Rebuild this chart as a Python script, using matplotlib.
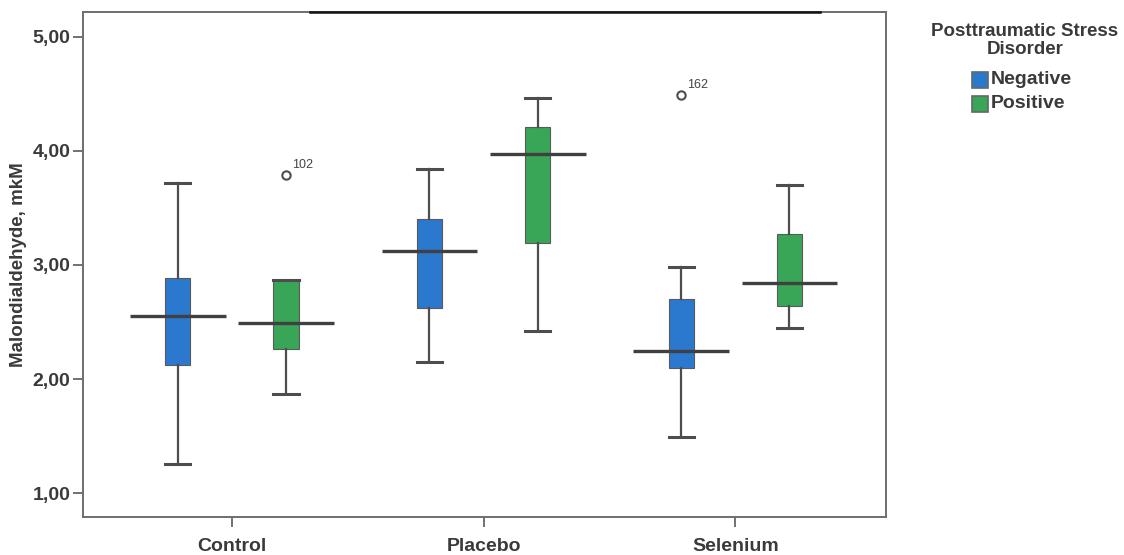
import matplotlib
matplotlib.use("Agg")
import matplotlib.pyplot as plt
from matplotlib.patches import Rectangle

plt.rcParams['font.family'] = ['Liberation Sans', 'DejaVu Sans']

# Groups and series
groups = ["Control", "Placebo", "Selenium"]
series = ["Negative", "Positive"]
colors = {"Negative": "#2b78cf", "Positive": "#38a656"}

# Five-number summaries per group (lower whisker, Q1, median, Q3, upper whisker)
neg_whislo = [1.26, 2.15, 1.49]
neg_q1     = [2.12, 2.62, 2.10]
neg_med    = [2.55, 3.12, 2.25]
neg_q3     = [2.89, 3.40, 2.70]
neg_whishi = [3.72, 3.84, 2.98]

pos_whislo = [1.87, 2.42, 2.45]
pos_q1     = [2.26, 3.19, 2.64]
pos_med    = [2.49, 3.97, 2.84]
pos_q3     = [2.87, 4.21, 3.27]
pos_whishi = [2.87, 4.46, 3.70]

# Outliers: (group index, series, value, case label)
outlier_group  = [0, 2]
outlier_series = ["Positive", "Negative"]
outlier_value  = [3.79, 4.49]
outlier_label  = ["102", "162"]

y_ticks = [1.0, 2.0, 3.0, 4.0, 5.0]
y_tick_labels = ["1,00", "2,00", "3,00", "4,00", "5,00"]

legend_title = ["Posttraumatic Stress", "Disorder"]

edge = "#4d4d4d"
text_col = "#3a3a3a"

W, H = 1124, 555
fig = plt.figure(figsize=(W / 100, H / 100), dpi=100)
ax = fig.add_axes([0.0738, 0.0685, 0.7147, 0.9095])

offset = 0.215
box_w = 0.10
med_half = 0.19

summ = {
    "Negative": (neg_whislo, neg_q1, neg_med, neg_q3, neg_whishi),
    "Positive": (pos_whislo, pos_q1, pos_med, pos_q3, pos_whishi),
}

for si, s in enumerate(series):
    lo, q1, med, q3, hi = summ[s]
    stats = []
    for gi in range(len(groups)):
        fl = [v for g, ss, v in zip(outlier_group, outlier_series, outlier_value)
              if g == gi and ss == s]
        stats.append(dict(whislo=lo[gi], q1=q1[gi], med=med[gi], q3=q3[gi],
                          whishi=hi[gi], fliers=fl))
    pos = [gi + (offset if si else -offset) for gi in range(len(groups))]
    ax.bxp(stats, positions=pos, widths=box_w, patch_artist=True,
           showfliers=True,
           boxprops=dict(facecolor=colors[s], edgecolor="#5a5a5a", linewidth=0.8),
           whiskerprops=dict(color=edge, linewidth=1.6),
           capprops=dict(color=edge, linewidth=2.2),
           medianprops=dict(linewidth=0),
           capwidths=box_w,
           flierprops=dict(marker="o", markersize=6, markerfacecolor="white",
                           markeredgecolor=edge, markeredgewidth=1.5),
           manage_ticks=False)
    # long median bars
    ax.hlines(med, [p - med_half for p in pos], [p + med_half for p in pos],
              color="#404040", linewidth=2.4, zorder=4)

for g, s, v, lab in zip(outlier_group, outlier_series, outlier_value, outlier_label):
    x = g + (offset if s == "Positive" else -offset)
    ax.annotate(lab, (x, v), xytext=(4, 5), textcoords="offset points",
                fontsize=9, color="#444444")

ax.set_xlim(-0.592, 2.60)
ax.set_ylim(0.792, 5.215)
ax.set_xticks(range(len(groups)))
ax.set_xticklabels(groups, fontsize=14, fontweight="bold", color=text_col)
ax.set_yticks(y_ticks)
ax.set_yticklabels(y_tick_labels, fontsize=14, fontweight="bold", color=text_col)
ax.tick_params(axis="both", direction="out", length=7, width=1.3, color="#666666")
ax.tick_params(axis="x", pad=8)
ax.tick_params(axis="y", pad=2)
ax.set_ylabel("Malondialdehyde, mkM", fontsize=13.5, fontweight="bold",
              color=text_col, labelpad=4)

for side in ["left", "right", "bottom", "top"]:
    ax.spines[side].set_color("#6e6e6e")
    ax.spines[side].set_linewidth(1.4)
ax.plot([0.283, 0.918], [1, 1], transform=ax.transAxes, color="#111111",
        linewidth=1.8, clip_on=False, zorder=6)

# Legend block to the right of the plot
for i, line in enumerate(legend_title):
    fig.text(1025 / W, 1 - (32 + 17 * i) / H, line, ha="center", va="center",
             fontsize=13.5, fontweight="bold", color=text_col)
for i, s in enumerate(series):
    yc = 80 + 24 * i
    fig.add_artist(Rectangle((972 / W, 1 - (yc + 8) / H), 16 / W, 16 / H,
                             transform=fig.transFigure, facecolor=colors[s],
                             edgecolor="#666666", linewidth=1.2))
    fig.text(991 / W, 1 - yc / H, s, ha="left", va="center",
             fontsize=14, fontweight="bold", color=text_col)

fig.savefig("out.png", dpi=100, facecolor="white")
